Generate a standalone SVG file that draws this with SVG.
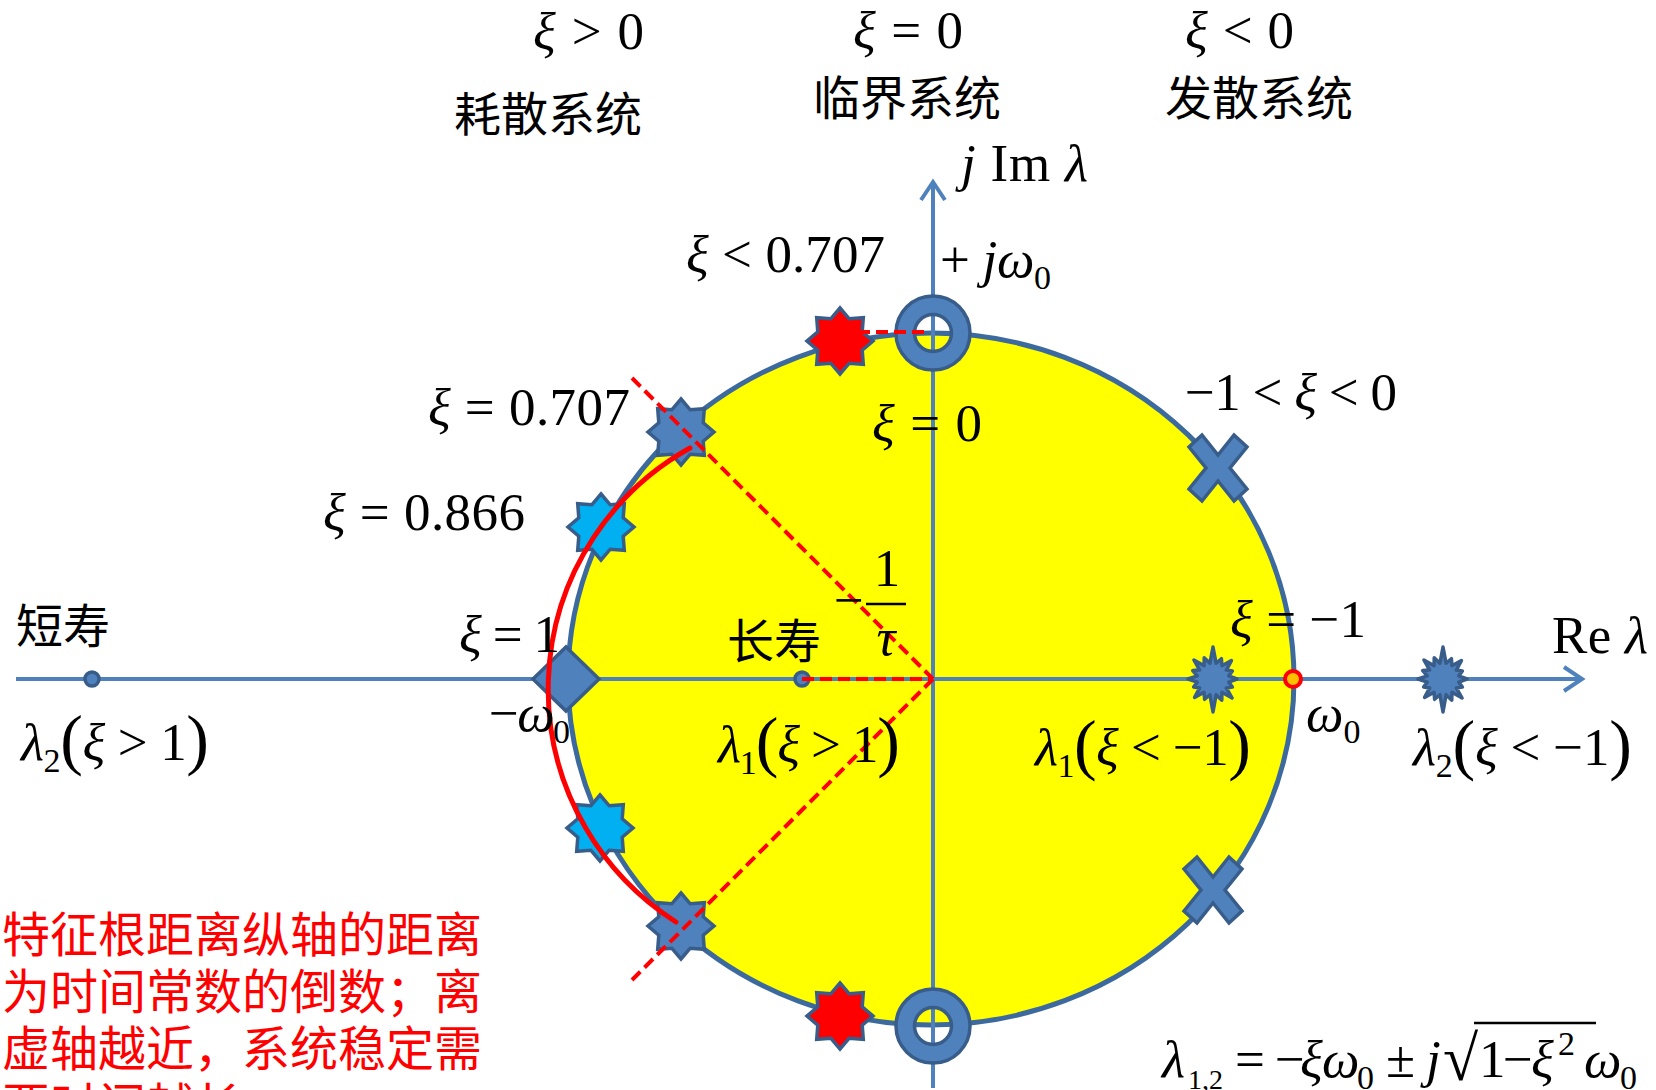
<svg xmlns="http://www.w3.org/2000/svg" width="1656" height="1090" viewBox="0 0 1656 1090">
<style>
text { font-family: "Liberation Serif", "Times New Roman", serif; font-size: 53px; fill: #000; }
.i { font-style: italic; }
.sub { font-size: 34px; }
.sub2 { font-size: 28px; }
.cjk { font-family: "Noto Sans CJK SC", sans-serif; font-size: 47px; }
.red { font-family: "Noto Sans CJK SC", sans-serif; font-size: 48px; fill: #FF0000; }
.axis { stroke: #4F81BD; stroke-width: 4; fill: none; }
.mk { stroke: #385D8A; stroke-width: 3.5; }
.blue { fill: #4F81BD; }
.cyan { fill: #00B0F0; }
.rd { fill: #FF0000; }
.dash { stroke: #FF0000; stroke-width: 4; stroke-dasharray: 12 6; fill: none; }
</style>
<defs>
<marker id="arr" markerUnits="userSpaceOnUse" markerWidth="40" markerHeight="40" viewBox="-25 -20 30 40" refX="0" refY="0" orient="auto" overflow="visible">
<path d="M -18 -12 L 0 0 L -18 12" fill="none" stroke="#4F81BD" stroke-width="4"/>
</marker>
<path id="star8" d="M0,-33 L9.2,-22.2 L23.3,-23.3 L22.2,-9.2 L33,0 L22.2,9.2 L23.3,23.3 L9.2,22.2 L0,33 L-9.2,22.2 L-23.3,23.3 L-22.2,9.2 L-33,0 L-22.2,-9.2 L-23.3,-23.3 L-9.2,-22.2 Z"/>
<path id="seal" d="M0,-32 L3.1,-15.7 L8.4,-20.3 L8.9,-13.3 L18.4,-18.4 L13.3,-8.9 L19.4,-8 L15.7,-3.1 L24,0 L15.7,3.1 L19.4,8 L13.3,8.9 L19.1,19.1 L8.9,13.3 L8.8,21.2 L3.1,15.7 L0,33 L-3.1,15.7 L-8.4,20.3 L-8.9,13.3 L-18.4,18.4 L-13.3,8.9 L-19.4,8 L-15.7,3.1 L-25,0 L-15.7,-3.1 L-20.3,-8.4 L-13.3,-8.9 L-19.1,-19.1 L-8.9,-13.3 L-8.8,-21.2 L-3.1,-15.7 Z"/>
<path id="xmark" d="M-16,-33 L0,-13 L16,-33 L29,-21 L12,0 L29,21 L16,33 L0,13 L-16,33 L-29,21 L-12,0 L-29,-21 Z"/>
<path id="ring" fill-rule="evenodd" d="M-37,0 A37,37 0 1,0 37,0 A37,37 0 1,0 -37,0 Z M-18.5,0 A18.5,18.5 0 1,0 18.5,0 A18.5,18.5 0 1,0 -18.5,0 Z"/>
</defs>

<g id="plane">
<ellipse cx="931" cy="679" rx="363" ry="346" fill="#FFFF00" stroke="#3C6A9E" stroke-width="5"/>
</g>

<g id="connectors">
<line class="axis" x1="16" y1="679" x2="1582" y2="679" marker-end="url(#arr)"/>
<line class="axis" x1="933" y1="1088" x2="933" y2="182" marker-end="url(#arr)"/>
</g>

<g id="markers">
<g id="dot-short"><circle cx="92" cy="679" r="7" class="blue mk" stroke-width="3"/></g>
<g id="dot-long"><circle cx="802" cy="679" r="7" class="blue mk" stroke-width="3"/></g>
<g id="diamond-xi1"><polygon points="533,679 566,647 599,679 566,711" class="blue mk"/></g>
<g id="star-0707-up"><use href="#star8" x="681" y="432" class="blue mk"/></g>
<g id="star-0707-down"><use href="#star8" x="681" y="926" class="blue mk"/></g>
<g id="star-0866-up"><use href="#star8" x="601" y="527" class="cyan mk"/></g>
<g id="star-0866-down"><use href="#star8" x="600" y="828" class="cyan mk"/></g>
<g id="star-red-up"><use href="#star8" x="840" y="341" class="rd mk"/></g>
<g id="star-red-down"><use href="#star8" x="840" y="1016" class="rd mk"/></g>
<g id="ring-up"><use href="#ring" x="933" y="333" class="blue mk" stroke-width="4"/></g>
<g id="ring-down"><use href="#ring" x="933" y="1026" class="blue mk" stroke-width="4"/></g>
<g id="x-up"><use href="#xmark" x="1218" y="468" class="blue mk"/></g>
<g id="x-down"><use href="#xmark" x="1213" y="890" class="blue mk"/></g>
<g id="seal-1"><use href="#seal" x="1213" y="679" class="blue mk" stroke-linejoin="round"/></g>
<g id="seal-2"><use href="#seal" x="1443" y="679" class="blue mk" stroke-linejoin="round"/></g>
<g id="omega0-point"><circle cx="1293" cy="679" r="8" fill="#FFC000" stroke="#FF0000" stroke-width="4"/></g>
</g>

<g id="red-guides">
<line class="dash" x1="632" y1="378" x2="933" y2="679"/>
<line class="dash" x1="933" y1="679" x2="632" y2="980"/>
<line class="dash" x1="802" y1="679" x2="933" y2="679"/>
<line class="dash" x1="840" y1="332" x2="929" y2="332"/>
<path d="M690,448 A276,276 0 0,0 676,922" fill="none" stroke="#FF0000" stroke-width="5" stroke-linecap="round"/>
</g>

<g id="labels">
<text x="533" y="49" textLength="111"><tspan class="i">ξ</tspan> &gt; 0</text>
<text x="853" y="48" textLength="110"><tspan class="i">ξ</tspan> = 0</text>
<text x="1185" y="48" textLength="109"><tspan class="i">ξ</tspan> &lt; 0</text>
<text class="cjk" x="454" y="131">耗散系统</text>
<text class="cjk" x="813" y="115">临界系统</text>
<text class="cjk" x="1165" y="115">发散系统</text>
<text x="961" y="181" textLength="127"><tspan class="i">j</tspan> Im <tspan class="i">λ</tspan></text>
<text x="940" y="277" textLength="111">+ <tspan class="i">jω</tspan><tspan class="sub" dy="12">0</tspan></text>
<text x="686" y="272" textLength="199"><tspan class="i">ξ</tspan> &lt; 0.707</text>
<text x="428" y="425" textLength="202"><tspan class="i">ξ</tspan> = 0.707</text>
<text x="872" y="441" textLength="110"><tspan class="i">ξ</tspan> = 0</text>
<text x="1185" y="410" textLength="212">−1 &lt; <tspan class="i">ξ</tspan> &lt; 0</text>
<text x="323" y="530" textLength="202"><tspan class="i">ξ</tspan> = 0.866</text>
<text x="834" y="618">−</text>
<line x1="866" y1="604" x2="906" y2="604" stroke="#000" stroke-width="2.5"/>
<text x="887" y="586" text-anchor="middle">1</text>
<text x="886" y="655" text-anchor="middle" class="i">τ</text>
<text class="cjk" x="16" y="643">短寿</text>
<text x="459" y="652" textLength="101"><tspan class="i">ξ</tspan> = 1</text>
<text class="cjk" x="727" y="658">长寿</text>
<text x="1230" y="637" textLength="136"><tspan class="i">ξ</tspan> = −1</text>
<text x="1552" y="653" textLength="96">Re <tspan class="i">λ</tspan></text>
<text x="21" y="760" textLength="188"><tspan class="i">λ</tspan><tspan class="sub" dy="12">2</tspan><tspan font-size="68" dy="-10">(</tspan><tspan class="i" dy="-2">ξ</tspan> &gt; 1<tspan font-size="68" dy="2">)</tspan></text>
<text x="489" y="731" textLength="81">−<tspan class="i">ω</tspan><tspan class="sub" dy="12">0</tspan></text>
<text x="718" y="762" textLength="182"><tspan class="i">λ</tspan><tspan class="sub" dy="12">1</tspan><tspan font-size="68" dy="-10">(</tspan><tspan class="i" dy="-2">ξ</tspan> &gt; 1<tspan font-size="68" dy="2">)</tspan></text>
<text x="1035" y="765" textLength="216"><tspan class="i">λ</tspan><tspan class="sub" dy="12">1</tspan><tspan font-size="68" dy="-10">(</tspan><tspan class="i" dy="-2">ξ</tspan> &lt; −1<tspan font-size="68" dy="2">)</tspan></text>
<text x="1306" y="731"><tspan class="i">ω</tspan><tspan class="sub" dy="12">0</tspan></text>
<text x="1413" y="765" textLength="219"><tspan class="i">λ</tspan><tspan class="sub" dy="12">2</tspan><tspan font-size="68" dy="-10">(</tspan><tspan class="i" dy="-2">ξ</tspan> &lt; −1<tspan font-size="68" dy="2">)</tspan></text>
<text y="1077"><tspan class="i" x="1162">λ</tspan><tspan class="sub2" x="1188" dy="12">1,2</tspan><tspan x="1235" dy="-12">=</tspan><tspan x="1275">−</tspan><tspan class="i" x="1300">ξ</tspan><tspan class="i" x="1322">ω</tspan><tspan class="sub" x="1357" dy="12">0</tspan><tspan x="1386" dy="-12">±</tspan><tspan class="i" x="1426">j</tspan><tspan font-size="64" x="1443" dy="3">√</tspan><tspan x="1479" dy="-3">1</tspan><tspan x="1503">−</tspan><tspan class="i" x="1531">ξ</tspan><tspan class="sub" x="1558" dy="-22">2</tspan><tspan class="i" x="1584" dy="22">ω</tspan><tspan class="sub" x="1620" dy="12">0</tspan></text>
<line x1="1474" y1="1023" x2="1596" y2="1023" stroke="#000" stroke-width="2.5"/>
<text class="red" y="952"><tspan x="2">特征根距离纵轴的距离</tspan><tspan x="2" dy="57">为时间常数的倒数；离</tspan><tspan x="2" dy="57">虚轴越近，系统稳定需</tspan><tspan x="2" dy="57">要时间越长</tspan></text>
</g>
</svg>
